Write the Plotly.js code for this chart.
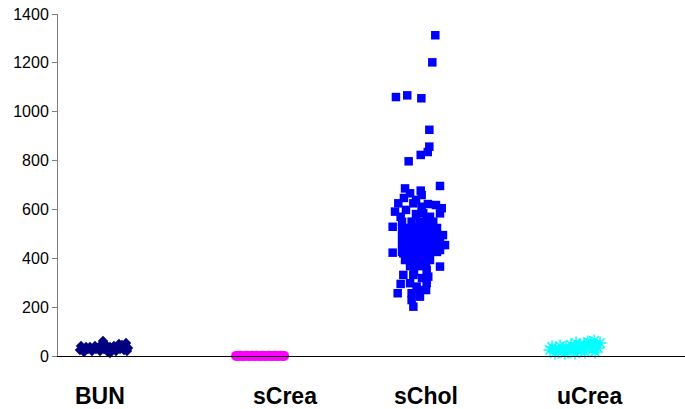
<!DOCTYPE html>
<html>
<head>
<meta charset="utf-8">
<script src="https://cdn.plot.ly/plotly-3.0.1.min.js"></script>
<style>html,body{margin:0;padding:0;background:#fff;}#chart{width:685px;height:409px;}</style>
</head>
<body>
<div id="chart"></div>
<script>
// Category names (shown as labels under the x axis)
const categories = ["BUN", "sCrea", "sChol", "uCrea"];

// BUN (jittered x position, value)
const bunX = [0.140,0.147,0.179,0.204,0.236,0.255,0.287,0.306,0.332,0.357,0.383,0.408,0.434,0.447,0.166,0.217,0.268,0.319,0.332,0.370,0.421,0.191,0.242,0.293,0.344,0.396,0.440,0.159,0.274,0.389];
const bunY = [24.6,40.9,36.8,36.8,40.9,32.7,61.4,45.0,36.8,40.9,36.8,45.0,53.2,32.7,16.4,20.5,20.5,16.4,12.3,20.5,24.6,28.7,28.7,28.7,28.7,28.7,20.5,28.7,45.0,49.1];

// sCrea
const screaX = [1.136,1.149,1.162,1.175,1.188,1.201,1.214,1.227,1.240,1.253,1.266,1.279,1.292,1.305,1.318,1.331,1.344,1.357,1.370,1.383,1.396,1.409,1.422,1.435,1.442];
const screaY = [0.5,0.4,0.6,0.5,0.3,0.7,0.5,0.4,0.6,0.5,0.8,0.4,0.5,0.6,0.3,0.5,0.7,0.4,0.5,0.6,0.4,0.5,0.6,0.5,0.4];

// sChol
const scholX = [2.407,2.388,2.156,2.228,2.318,2.369,2.369,2.359,2.314,2.237,
  2.437,2.214,2.314,2.246,2.320,2.171,2.150,2.186,2.267,2.320,
  2.448,2.437,2.330,2.373,2.135,2.256,2.352,2.394,2.135,2.437,
  2.437,2.203,2.437,2.203,2.186,2.167,2.267,2.352,2.352,2.309,
  2.256,2.256,2.267,2.288,2.362,2.246,
  2.207,2.284,2.360,2.220,2.284,2.411,2.195,2.309,
  2.195,2.239,2.284,2.329,2.373,2.418,
  2.195,2.239,2.284,2.329,2.373,2.418,
  2.195,2.239,2.284,2.329,2.373,2.418,
  2.195,2.239,2.284,2.329,2.373,2.418,
  2.214,2.246,2.297,2.348,2.373,
  2.456,2.469,
  2.246,2.297,2.348,2.271,2.322,2.297,2.348];
const scholY = [1313,1202,1060,1067,1055,926,857,835,823,797,
  696,686,677,666,659,625,591,570,625,611,
  605,584,584,570,529,550,557,550,423,475,
  434,420,366,332,295,257,332,352,298,243,
  257,229,202,284,325,298,
  647,639,622,598,581,618,549,549,
  524,524,524,524,524,524,
  491,491,491,491,491,491,
  458,458,458,458,458,458,
  426,426,426,426,426,426,
  393,393,393,393,393,
  495,454,
  368,368,368,344,319,270,270];

// uCrea
const ucreaX = [3.139,3.152,3.177,3.190,3.203,3.222,3.241,3.254,3.273,3.292,3.305,3.324,3.337,3.356,3.368,3.381,3.394,3.407,3.420,3.432,3.445,3.458,3.171,3.234,3.298,3.362,3.426,3.266,3.330,3.394];
const ucreaY = [24.6,36.8,28.7,16.4,40.9,24.6,36.8,16.4,45.0,28.7,53.2,36.8,20.5,49.1,32.7,57.3,40.9,24.6,61.4,45.0,32.7,53.2,12.3,12.3,12.3,16.4,16.4,28.7,45.0,53.2];

// y axis ticks
const yTicks = [0,200,400,600,800,1000,1200,1400];

const labelPos = [0.265, 1.445, 2.348, 3.388];

const traces = [
  {x: bunX, y: bunY, type: 'scatter', mode: 'markers', name: categories[0], cliponaxis: false,
   marker: {symbol: 'diamond', size: 8, color: '#000080', line: {width: 0}}},
  {x: screaX, y: screaY, type: 'scatter', mode: 'markers', name: categories[1], cliponaxis: false,
   marker: {symbol: 'circle', size: 10, color: '#FF00FF', line: {width: 0}}},
  {x: scholX, y: scholY, type: 'scatter', mode: 'markers', name: categories[2], cliponaxis: false,
   marker: {symbol: 'square', size: 8.5, color: '#0000FF', line: {width: 0}}},
  {x: ucreaX, y: ucreaY, type: 'scatter', mode: 'markers', name: categories[3], cliponaxis: false,
   marker: {symbol: 'asterisk-open', size: 11, color: '#00FFFF', line: {width: 1.5, color: '#00FFFF'}}}
];

const layout = {
  width: 685, height: 409,
  margin: {l: 58, r: 0, t: 14, b: 53, pad: 0},
  paper_bgcolor: '#ffffff', plot_bgcolor: '#ffffff',
  showlegend: false,
  font: {family: 'Liberation Sans, Arial, sans-serif', color: '#000'},
  xaxis: {range: [0, 4], showgrid: false, zeroline: false, showticklabels: false,
    showline: true, linecolor: '#000', linewidth: 1, ticks: '', fixedrange: true},
  yaxis: {range: [0, 1400], tickvals: yTicks, ticktext: yTicks.map(String), showgrid: false, zeroline: false,
    showline: true, linecolor: '#808080', linewidth: 1, ticks: 'outside', ticklen: 5, tickcolor: '#808080',
    tickfont: {size: 16, family: 'Liberation Sans, Arial, sans-serif', color: '#000'}},
  annotations: categories.map((c, i) => ({
    x: labelPos[i], xref: 'x', y: 0, yref: 'paper', yanchor: 'middle', xanchor: 'center',
    yshift: -40, showarrow: false, text: '<b>' + c + '</b>',
    font: {size: 23, family: 'Liberation Sans, Arial, sans-serif', color: '#000'}
  }))
};

Plotly.newPlot('chart', traces, layout, {displayModeBar: false, staticPlot: true});
</script>
</body>
</html>
